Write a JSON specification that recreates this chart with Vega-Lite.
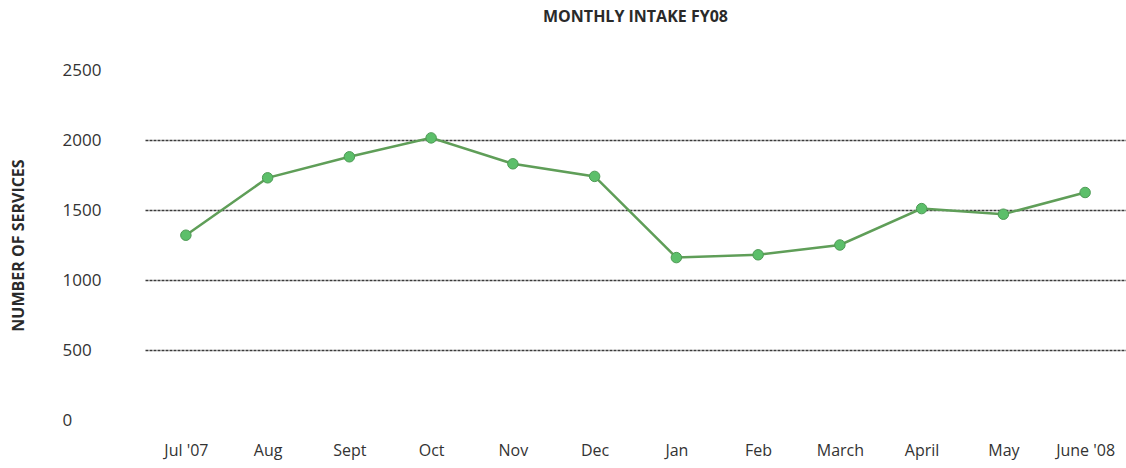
{
  "$schema": "https://vega.github.io/schema/vega-lite/v6.json",
  "width": 981,
  "height": 350,
  "autosize": "none",
  "padding": {"left": 145, "top": 70, "right": 0, "bottom": 48},
  "background": "#ffffff",
  "title": {
    "text": "MONTHLY INTAKE FY08",
    "font": "Open Sans",
    "fontSize": 16,
    "fontWeight": "bold",
    "color": "#2a2a2a",
    "anchor": "middle",
    "offset": 36
  },
  "data": {
    "values": [
      {"month": "Jul '07", "services": 1320},
      {"month": "Aug", "services": 1730},
      {"month": "Sept", "services": 1880},
      {"month": "Oct", "services": 2015},
      {"month": "Nov", "services": 1830},
      {"month": "Dec", "services": 1740},
      {"month": "Jan", "services": 1160},
      {"month": "Feb", "services": 1180},
      {"month": "March", "services": 1250},
      {"month": "April", "services": 1510},
      {"month": "May", "services": 1470},
      {"month": "June '08", "services": 1625}
    ]
  },
  "encoding": {
    "x": {
      "field": "month",
      "type": "ordinal",
      "sort": null,
      "scale": {"type": "point", "padding": 0.5},
      "axis": {
        "title": null,
        "domain": false,
        "ticks": false,
        "grid": false,
        "labelAngle": 0,
        "labelFont": "Open Sans",
        "labelFontSize": 16,
        "labelColor": "#333333",
        "labelPadding": 22
      }
    },
    "y": {
      "field": "services",
      "type": "quantitative",
      "scale": {"domain": [0, 2500], "nice": false, "zero": true},
      "axis": {
        "title": "NUMBER OF SERVICES",
        "titleFont": "Open Sans",
        "titleFontSize": 16,
        "titleFontWeight": "bold",
        "titleColor": "#2a2a2a",
        "titlePadding": 36,
        "values": [0, 500, 1000, 1500, 2000, 2500],
        "format": "d",
        "domain": false,
        "ticks": false,
        "labelFont": "Open Sans",
        "labelFontSize": 17,
        "labelColor": "#333333",
        "labelAlign": "left",
        "labelPadding": 83,
        "grid": true,
        "gridColor": "#3a3a3a",
        "gridWidth": 1.4,
        "gridDash": [3, 1],
        "gridOpacity": {
          "condition": {"test": "datum.value == 0 || datum.value == 2500", "value": 0},
          "value": 1
        }
      }
    }
  },
  "layer": [
    {
      "mark": {"type": "line", "color": "#5f9e58", "strokeWidth": 2.5}
    },
    {
      "mark": {"type": "point", "filled": true, "size": 110, "color": "#5cbf6a", "stroke": "#4e9a55", "strokeWidth": 1, "opacity": 1}
    }
  ],
  "config": {
    "view": {"stroke": null}
  }
}
